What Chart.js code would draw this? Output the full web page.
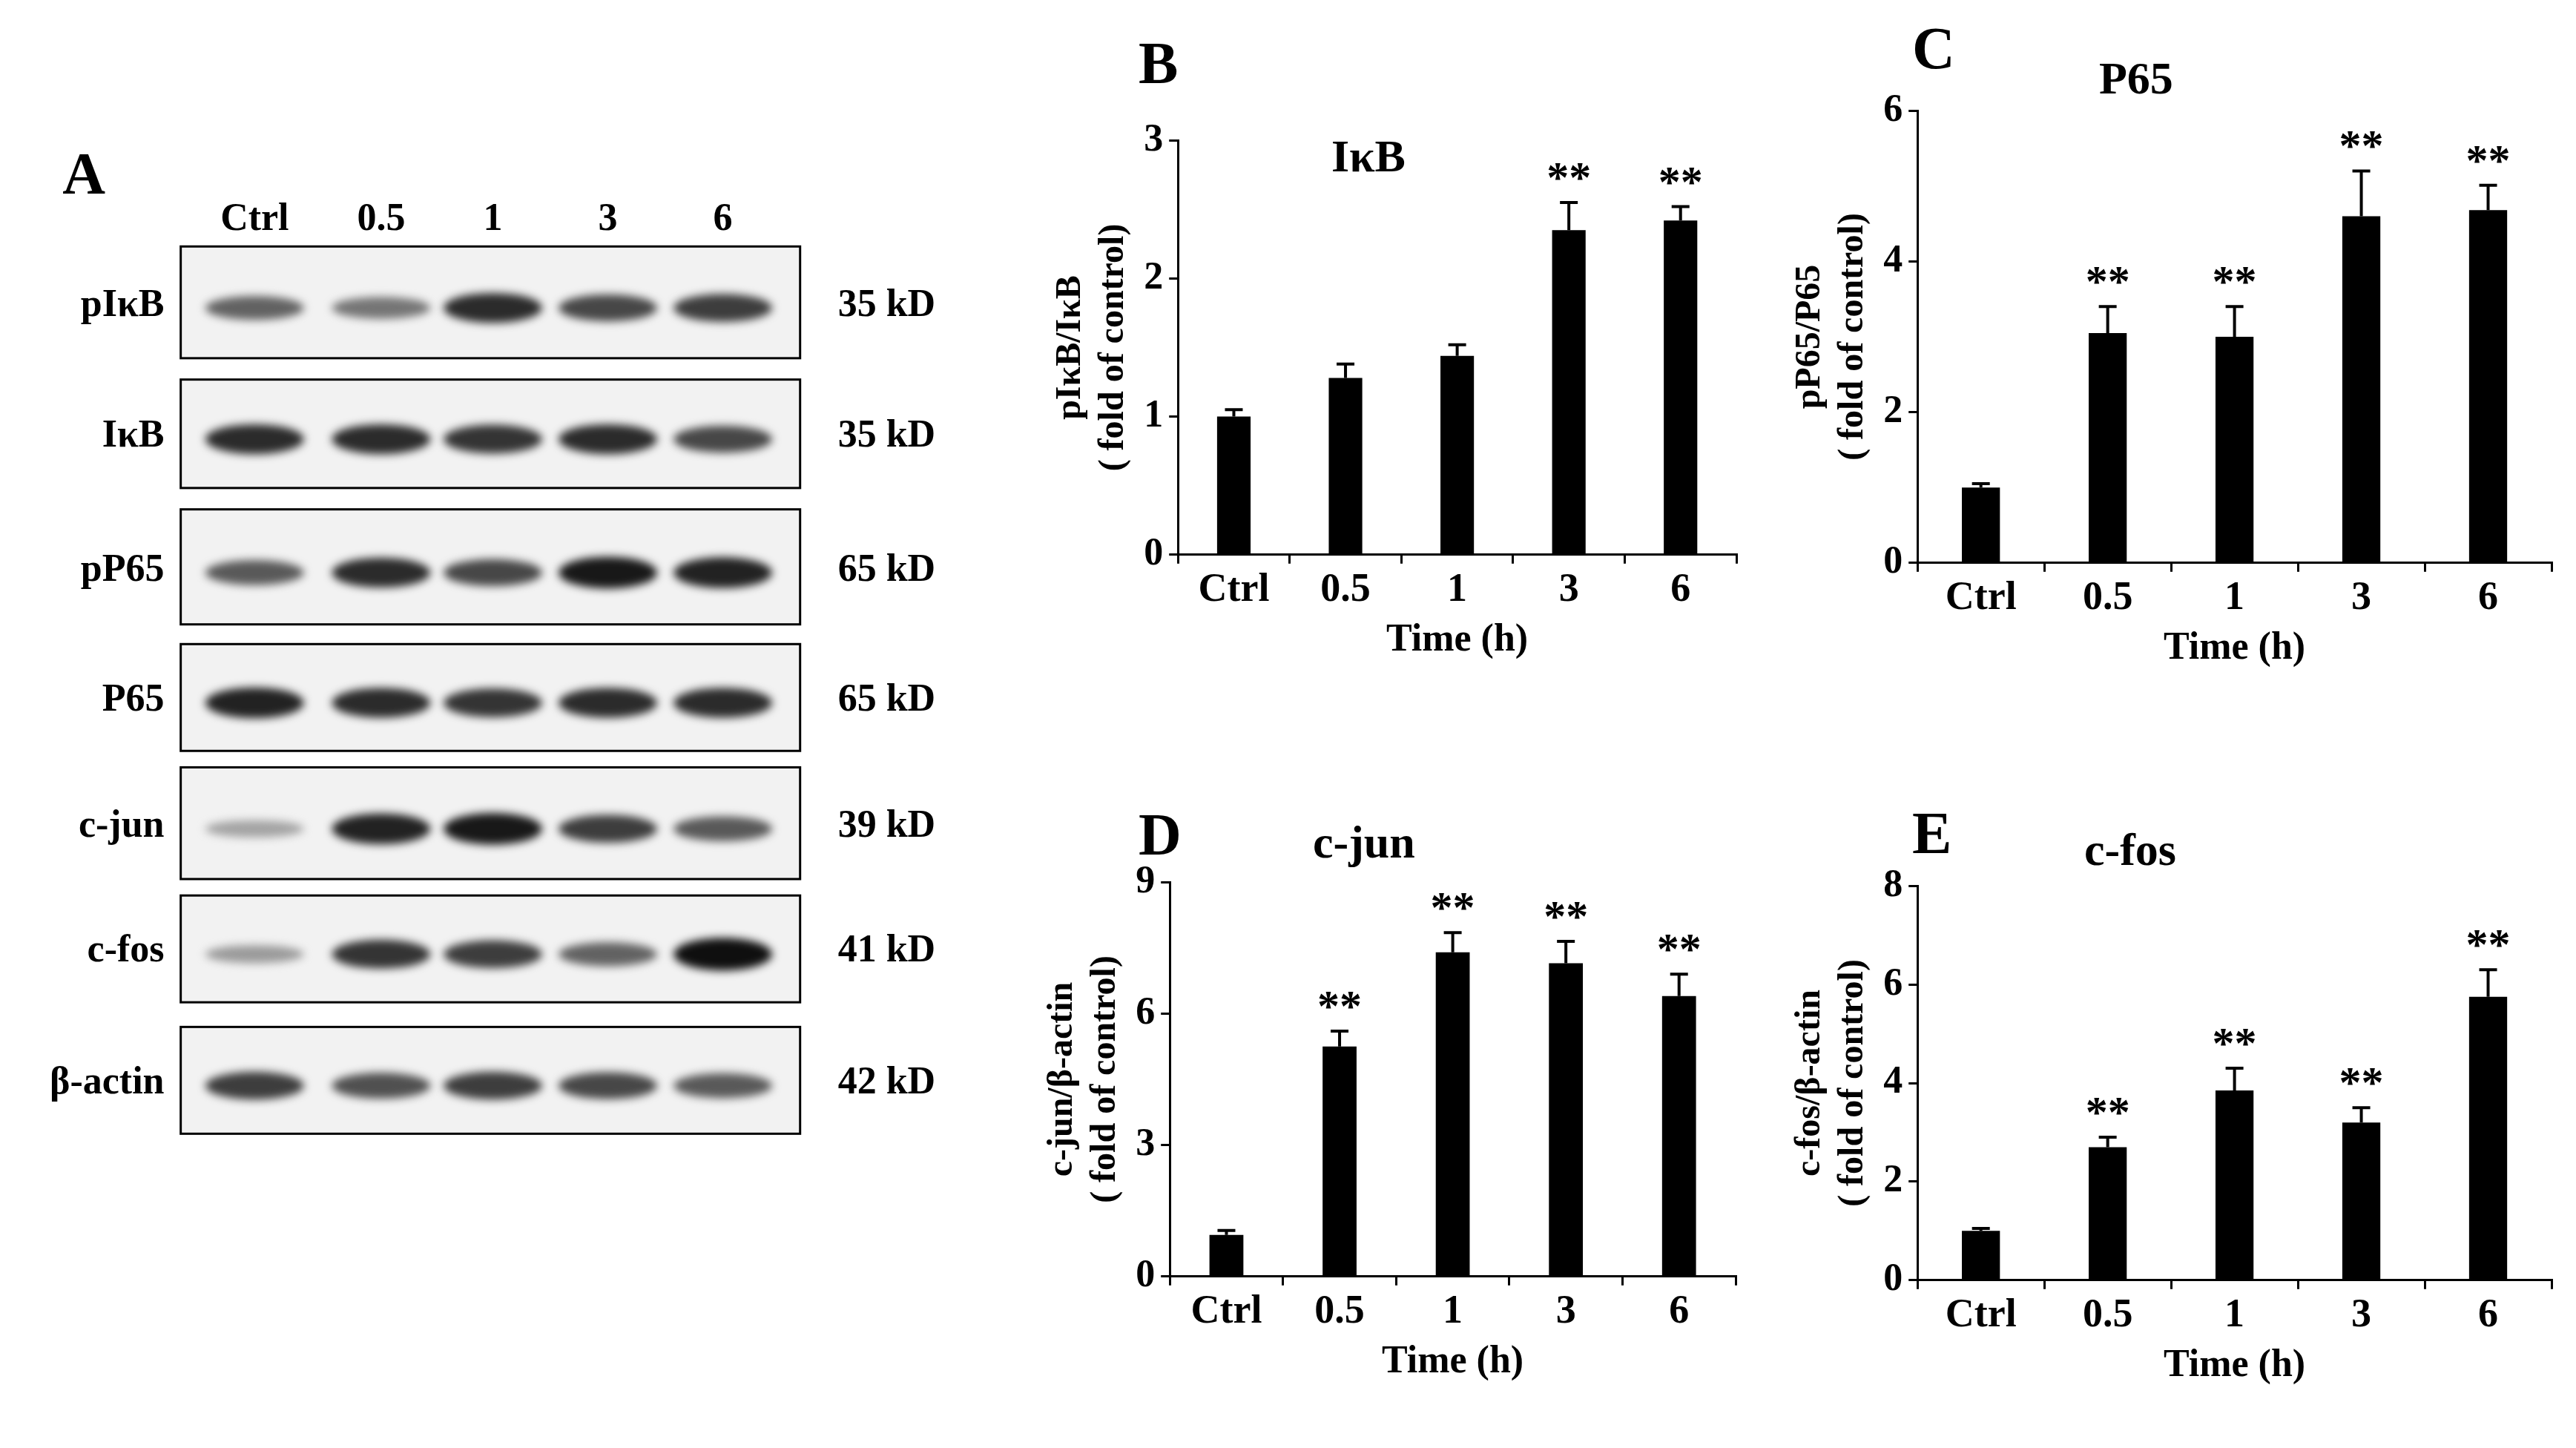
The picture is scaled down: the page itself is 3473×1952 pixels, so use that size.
<!DOCTYPE html>
<html>
<head>
<meta charset="utf-8">
<script src="https://cdn.jsdelivr.net/npm/chart.js@4.4.0/dist/chart.umd.min.js"></script>
<style>
  body { margin: 0; width: 3473px; height: 1952px; background: #fff; position: relative; overflow: hidden;
         font-family: "Liberation Serif", serif; font-weight: bold; }
  .box { position: absolute; }
  .lbl { position: absolute; color: #000; white-space: nowrap; }
  #blot { position: absolute; left: 0; top: 0; }
</style>
</head>
<body>
<canvas id="blot" width="1400" height="1952"></canvas>
<div class="box" style="left:1411px;top:150px;width:950px;height:745px"><canvas id="chartB"></canvas></div>
<div class="box" style="left:2408px;top:110px;width:1052px;height:796px"><canvas id="chartC"></canvas></div>
<div class="box" style="left:1400px;top:1150px;width:960px;height:718px"><canvas id="chartD"></canvas></div>
<div class="box" style="left:2408px;top:1155px;width:1052px;height:718px"><canvas id="chartE"></canvas></div>

<div class="lbl" style="left:1535px;top:40px;font-size:80px">B</div>
<div class="lbl" style="left:1795px;top:175px;font-size:62px">IκB</div>
<div class="lbl" style="left:2578px;top:20px;font-size:80px">C</div>
<div class="lbl" style="left:2830px;top:70px;font-size:62px">P65</div>
<div class="lbl" style="left:1535px;top:1080px;font-size:80px">D</div>
<div class="lbl" style="left:1770px;top:1100px;font-size:62px">c-jun</div>
<div class="lbl" style="left:2578px;top:1078px;font-size:80px">E</div>
<div class="lbl" style="left:2810px;top:1110px;font-size:62px">c-fos</div>

<script>
// ---- data ----
const categories = ["Ctrl", "0.5", "1", "3", "6"];

const ikbValues = [1.0, 1.28, 1.44, 2.35, 2.42];
const ikbErrors = [0.05, 0.1, 0.08, 0.2, 0.1];
const ikbStars = ["", "", "", "**", "**"];

const p65Values = [1.0, 3.05, 3.0, 4.6, 4.68];
const p65Errors = [0.05, 0.35, 0.4, 0.6, 0.33];
const p65Stars = ["", "**", "**", "**", "**"];

const cjunValues = [0.95, 5.25, 7.4, 7.15, 6.4];
const cjunErrors = [0.1, 0.35, 0.45, 0.5, 0.5];
const cjunStars = ["", "**", "**", "**", "**"];

const cfosValues = [1.0, 2.7, 3.85, 3.2, 5.75];
const cfosErrors = [0.05, 0.2, 0.45, 0.3, 0.55];
const cfosStars = ["", "**", "**", "**", "**"];

// western blot band intensities (0..1) per lane
const blotRows = ["pIκB", "IκB", "pP65", "P65", "c-jun", "c-fos", "β-actin"];
const blotSizes = ["35 kD", "35 kD", "65 kD", "65 kD", "39 kD", "41 kD", "42 kD"];
const blotBands = [
  [0.55, 0.45, 0.85, 0.7, 0.75],
  [0.85, 0.85, 0.8, 0.85, 0.7],
  [0.6, 0.85, 0.7, 0.95, 0.9],
  [0.9, 0.85, 0.8, 0.85, 0.85],
  [0.2, 0.9, 0.95, 0.75, 0.6],
  [0.25, 0.8, 0.75, 0.55, 1.0],
  [0.75, 0.65, 0.75, 0.7, 0.6]
];

const FONT = "Liberation Serif";

// ---- blot panel (plain canvas) ----
function drawBlot() {
  const c = document.getElementById("blot").getContext("2d");
  const s = 2.215;
  const rowTops = [150, 231, 310, 392, 467, 545, 625];
  const rowH = [68, 66, 70, 65, 68, 65, 65];
  const lanes = [155, 232, 300, 370, 440];
  c.fillStyle = "#000";
  c.font = "bold 80px " + FONT;
  c.fillText("A", 38 * s, 118 * s);
  c.font = "bold 52px " + FONT;
  c.textAlign = "center";
  categories.forEach((cat, i) => c.fillText(cat, lanes[i] * s, 140 * s));
  rowTops.forEach((top, r) => {
    const x0 = 110 * s, y0 = top * s, w = 377 * s, h = rowH[r] * s;
    c.fillStyle = "#f2f2f2";
    c.fillRect(x0, y0, w, h);
    c.strokeStyle = "#000";
    c.lineWidth = 3;
    c.strokeRect(x0, y0, w, h);
    c.save();
    c.beginPath(); c.rect(x0, y0, w, h); c.clip();
    c.filter = "blur(6px)";
    blotBands[r].forEach((v, i) => {
      const g = Math.round(200 - 185 * v);
      c.fillStyle = `rgb(${g},${g},${g})`;
      c.beginPath();
      c.ellipse(lanes[i] * s, y0 + h * 0.55, 30 * s, (4 + 6 * v) * s, 0, 0, Math.PI * 2);
      c.fill();
    });
    c.restore();
    c.fillStyle = "#000";
    c.textAlign = "right";
    c.font = "bold 52px " + FONT;
    c.fillText(blotRows[r], 100 * s, y0 + h * 0.62);
    c.textAlign = "left";
    c.fillText(blotSizes[r], 510 * s, y0 + h * 0.62);
    c.textAlign = "center";
  });
}
drawBlot();

// ---- error bars + stars ----
const errorBarPlugin = {
  id: "errorBars",
  afterDatasetsDraw(chart) {
    const { ctx, scales: { y } } = chart;
    const o = chart.options.plugins.errorBars;
    const meta = chart.getDatasetMeta(0);
    ctx.save();
    ctx.strokeStyle = "#000";
    ctx.lineWidth = 4;
    ctx.fillStyle = "#000";
    ctx.font = "bold 60px " + FONT;
    ctx.textAlign = "center";
    o.values.forEach((v, i) => {
      const px = meta.data[i].x;
      const yTop = y.getPixelForValue(v + o.errors[i]);
      const yv = y.getPixelForValue(v);
      ctx.beginPath();
      ctx.moveTo(px, yv); ctx.lineTo(px, yTop);
      ctx.moveTo(px - 12, yTop); ctx.lineTo(px + 12, yTop);
      ctx.stroke();
      if (o.stars[i]) ctx.fillText(o.stars[i], px, yTop - 14);
    });
    ctx.restore();
  }
};

function makeChart(id, values, errors, stars, yMax, step, yTitle, padTop) {
  new Chart(document.getElementById(id), {
    type: "bar",
    data: {
      labels: categories,
      datasets: [{ data: values, backgroundColor: "#000", barPercentage: 0.3, categoryPercentage: 1 }]
    },
    options: {
      responsive: true,
      maintainAspectRatio: false,
      animation: false,
      layout: { padding: { top: padTop, right: 20 } },
      plugins: {
        legend: { display: false },
        tooltip: { enabled: false },
        errorBars: { values, errors, stars }
      },
      scales: {
        x: {
          grid: { offset: true, drawOnChartArea: false, drawTicks: true, tickLength: 12, color: "#000", lineWidth: 3 },
          border: { color: "#000", width: 3 },
          ticks: { color: "#000", font: { family: FONT, weight: "bold", size: 54 }, padding: 4 },
          title: { display: true, text: "Time (h)", color: "#000", font: { family: FONT, weight: "bold", size: 52 }, padding: 0 }
        },
        y: {
          min: 0, max: yMax,
          grid: { drawOnChartArea: false, drawTicks: true, tickLength: 12, color: "#000", lineWidth: 3 },
          border: { color: "#000", width: 3 },
          ticks: { stepSize: step, color: "#000", font: { family: FONT, weight: "bold", size: 52 }, padding: 8 },
          title: { display: true, text: yTitle, color: "#000", font: { family: FONT, weight: "bold", size: 48 }, padding: 4 }
        }
      }
    },
    plugins: [errorBarPlugin]
  });
}

makeChart("chartB", ikbValues, ikbErrors, ikbStars, 3, 1, ["pIκB/IκB", "( fold of control)"], 30);
makeChart("chartC", p65Values, p65Errors, p65Stars, 6, 2, ["pP65/P65", "( fold of control)"], 30);
makeChart("chartD", cjunValues, cjunErrors, cjunStars, 9, 3, ["c-jun/β-actin", "( fold of control)"], 30);
makeChart("chartE", cfosValues, cfosErrors, cfosStars, 8, 2, ["c-fos/β-actin", "( fold of control)"], 30);
</script>
</body>
</html>
